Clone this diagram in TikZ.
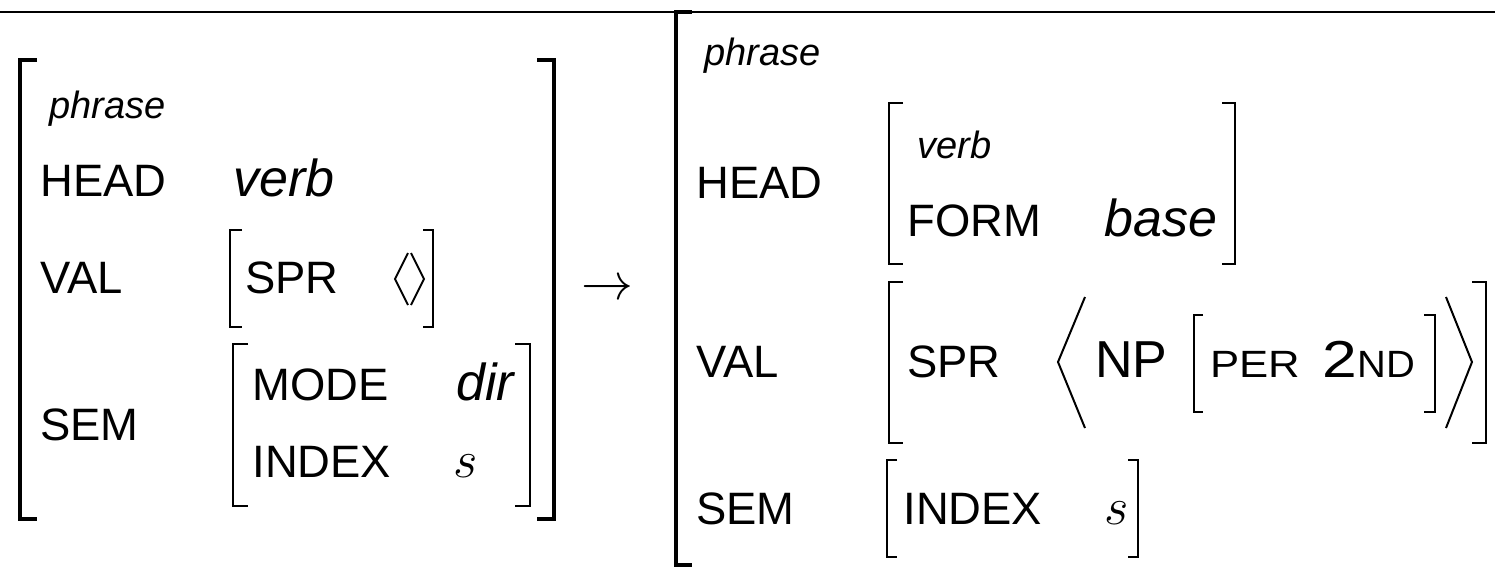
\documentclass[tikz,border=0pt]{standalone}
\usepackage{fontspec}
\setmainfont{Liberation Sans}
\begin{document}
\begin{tikzpicture}[x=0.5pt,y=-0.5pt,line cap=butt,line join=miter,
  lbl/.style={anchor=base west,inner sep=0pt,font=\fontsize{22.7}{27}\selectfont},
  mth/.style={anchor=base west,inner sep=0pt,font=\fontsize{20.74}{25}\selectfont},
  valit/.style={anchor=base west,inner sep=0pt,font=\fontsize{26}{30}\selectfont\itshape},
  typ/.style={anchor=base west,inner sep=0pt,font=\fontsize{19}{23}\selectfont\itshape},
  big/.style={anchor=base west,inner sep=0pt,font=\fontsize{26}{30}\selectfont},
  sc/.style={anchor=base west,inner sep=0pt,font=\fontsize{19}{23}\selectfont},
  outerbr/.style={line width=2pt},
  innerbr/.style={line width=1.4pt},
  thinbr/.style={line width=1pt},
  angle/.style={line width=1pt}]
\useasboundingbox (0,0) rectangle (1495,568);
% top rule
\draw[line width=1.3pt] (0,12) -- (1495,12);

% ===== left AVM =====
\draw[outerbr] (37,60) -| (20,519) -- (37,519);
\draw[outerbr] (537,60) -| (554,519) -- (537,519);
\node[typ] (lphrase) at (49,118) {phrase};
\node[lbl] (lhead) at (40,196) {HEAD};
\node[valit] (lverb) at (233,196) {verb};
\node[lbl] (lval) at (40,293) {VAL};
\draw[innerbr] (242,230) -| (230,327) -- (242,327);
\draw[innerbr] (423,230) -| (433,327) -- (423,327);
\node[lbl] (lspr) at (245,293) {SPR};
\draw[angle] (408,253) -- (395,279) -- (408,305);
\draw[angle] (411,253) -- (424,279) -- (411,305);
\node[lbl] (lsem) at (40,440) {SEM};
\draw[innerbr] (248,344) -| (233,506) -- (248,506);
\draw[innerbr] (515,344) -| (530,506) -- (515,506);
\node[lbl] (lmode) at (252,400) {MODE};
\node[valit] (ldir) at (456,400) {dir};
\node[lbl] (lindex) at (252,477) {INDEX};
\node[mth] (ls) at (453,477) {\scalebox{1.27}{$s$}};

% arrow
\node[inner sep=0pt,font=\fontsize{20.74}{25}\selectfont] (arrow) at (607,290) {\scalebox{1.25}{$\rightarrow$}};

% ===== right AVM =====
\draw[outerbr] (692,12) -| (676,565) -- (692,565);
\node[typ] (rphrase) at (704,65) {phrase};
\node[lbl] (rhead) at (696,198) {HEAD};
\draw[innerbr] (903,103) -| (889,264) -- (903,264);
\draw[innerbr] (1222,103) -| (1235,264) -- (1222,264);
\node[typ] (rverb) at (917,158) {verb};
\node[lbl] (rform) at (907,236) {FORM};
\node[valit] (rbase) at (1104,236) {base};

\node[lbl] (rval) at (696,377) {VAL};
\draw[innerbr] (903,282) -| (889,443) -- (903,443);
\draw[innerbr] (1472,282) -| (1486,443) -- (1472,443);
\node[lbl] (rspr) at (907,377) {SPR};
\draw[angle] (1085,297) -- (1058,362) -- (1085,428);
\node[big] (np) at (1095,377) {NP};
\draw[thinbr] (1203,315) -| (1194,412) -- (1203,412);
\node[sc] (per) at (1210,377) {\scalebox{1.15}[1]{PER}};
\node[big] (two) at (1322,377) {\scalebox{1.2}[1]{2}};
\node[sc] (nd) at (two.base east) [anchor=base west] {\scalebox{1.05}[1]{ND}};
\draw[thinbr] (1424,315) -| (1435,412) -- (1424,412);
\draw[angle] (1446,297) -- (1472,362) -- (1446,428);

\node[lbl] (rsem) at (696,524) {SEM};
\draw[thinbr] (897,460) -| (887,557) -- (897,557);
\draw[thinbr] (1128,460) -| (1138,557) -- (1128,557);
\node[lbl] (rindex) at (903,524) {INDEX};
\node[mth] (rs) at (1104,524) {\scalebox{1.27}{$s$}};
\end{tikzpicture}
\end{document}
